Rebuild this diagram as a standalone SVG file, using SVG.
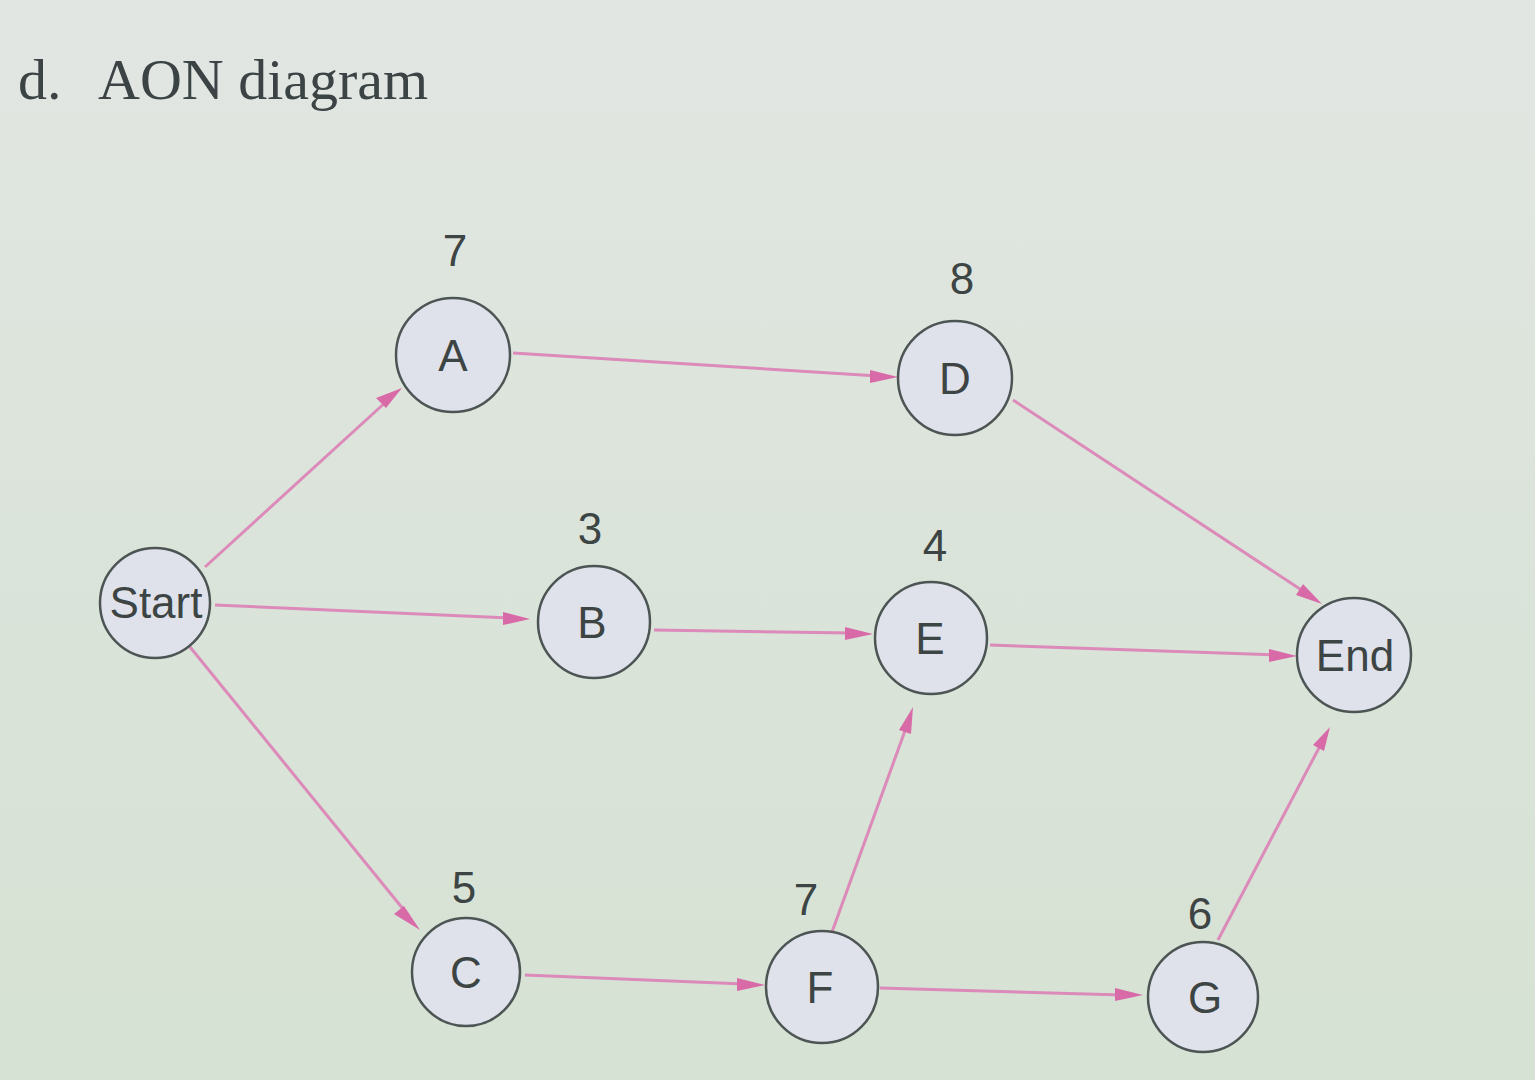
<svg xmlns="http://www.w3.org/2000/svg" width="1535" height="1080" viewBox="0 0 1535 1080">
<defs>
<linearGradient id="bg" x1="0" y1="0" x2="0" y2="1">
<stop offset="0" stop-color="#e2e6e3"/>
<stop offset="0.4" stop-color="#dce4db"/>
<stop offset="1" stop-color="#d6e2d4"/>
</linearGradient>
<style>
.node circle{fill:#dfe2ea;stroke:#4d5554;stroke-width:2.5}
.lbl{font-family:"Liberation Sans","DejaVu Sans",sans-serif;font-size:44px;fill:#3d4444;text-anchor:middle}
.num{font-family:"Liberation Sans","DejaVu Sans",sans-serif;font-size:44px;fill:#3d4444;text-anchor:middle}
.edge{stroke:#dc8ab9;stroke-width:3;fill:none}
.head{fill:#d86aa8}
.title{font-family:"Liberation Serif",serif;font-size:58px;fill:#3c4345}
</style>
</defs>
<rect width="1535" height="1080" fill="url(#bg)"/>
<text class="title" x="18" y="99">d.</text>
<text class="title" x="98" y="99">AON diagram</text>
<g id="connectors">
<line class="edge" x1="205" y1="567" x2="388" y2="400"/>
<polygon class="head" points="402,388 376,398 386,408"/>
<line class="edge" x1="215" y1="605" x2="510" y2="618"/>
<polygon class="head" points="530,619 503,612 503,625"/>
<line class="edge" x1="190" y1="647" x2="408" y2="915"/>
<polygon class="head" points="420,930 404,906 394,914"/>
<line class="edge" x1="513" y1="353" x2="878" y2="376"/>
<polygon class="head" points="898,377 870,370 870,383"/>
<line class="edge" x1="654" y1="630" x2="852" y2="633"/>
<polygon class="head" points="873,634 845,627 845,640"/>
<line class="edge" x1="1013" y1="400" x2="1306" y2="593"/>
<polygon class="head" points="1322,604 1303,584 1296,595"/>
<line class="edge" x1="990" y1="645" x2="1276" y2="655"/>
<polygon class="head" points="1297,656 1269,649 1269,662"/>
<line class="edge" x1="525" y1="975" x2="744" y2="984"/>
<polygon class="head" points="765,985 737,978 737,991"/>
<line class="edge" x1="832" y1="932" x2="906" y2="728"/>
<polygon class="head" points="913,707 899,730 911,734"/>
<line class="edge" x1="880" y1="988" x2="1122" y2="995"/>
<polygon class="head" points="1143,995 1115,988 1115,1001"/>
<line class="edge" x1="1218" y1="940" x2="1320" y2="746"/>
<polygon class="head" points="1330,727 1313,745 1324,751"/>
</g>
<g id="node-start" class="node"><circle cx="155" cy="603" r="55"/><text class="lbl" x="156" y="618" font-size="38">Start</text></g>
<g id="node-A" class="node"><circle cx="453" cy="355" r="57"/><text class="lbl" x="453" y="371">A</text><text class="num" x="455" y="266">7</text></g>
<g id="node-D" class="node"><circle cx="955" cy="378" r="57"/><text class="lbl" x="955" y="394">D</text><text class="num" x="962" y="294">8</text></g>
<g id="node-B" class="node"><circle cx="594" cy="622" r="56"/><text class="lbl" x="592" y="638">B</text><text class="num" x="590" y="544">3</text></g>
<g id="node-E" class="node"><circle cx="931" cy="638" r="56"/><text class="lbl" x="930" y="654">E</text><text class="num" x="935" y="561">4</text></g>
<g id="node-end" class="node"><circle cx="1354" cy="655" r="57"/><text class="lbl" x="1355" y="671">End</text></g>
<g id="node-C" class="node"><circle cx="466" cy="972" r="54"/><text class="lbl" x="466" y="988">C</text><text class="num" x="464" y="903">5</text></g>
<g id="node-F" class="node"><circle cx="822" cy="987" r="56"/><text class="lbl" x="820" y="1003">F</text><text class="num" x="806" y="915">7</text></g>
<g id="node-G" class="node"><circle cx="1203" cy="997" r="55"/><text class="lbl" x="1205" y="1013">G</text><text class="num" x="1200" y="929">6</text></g>
</svg>
